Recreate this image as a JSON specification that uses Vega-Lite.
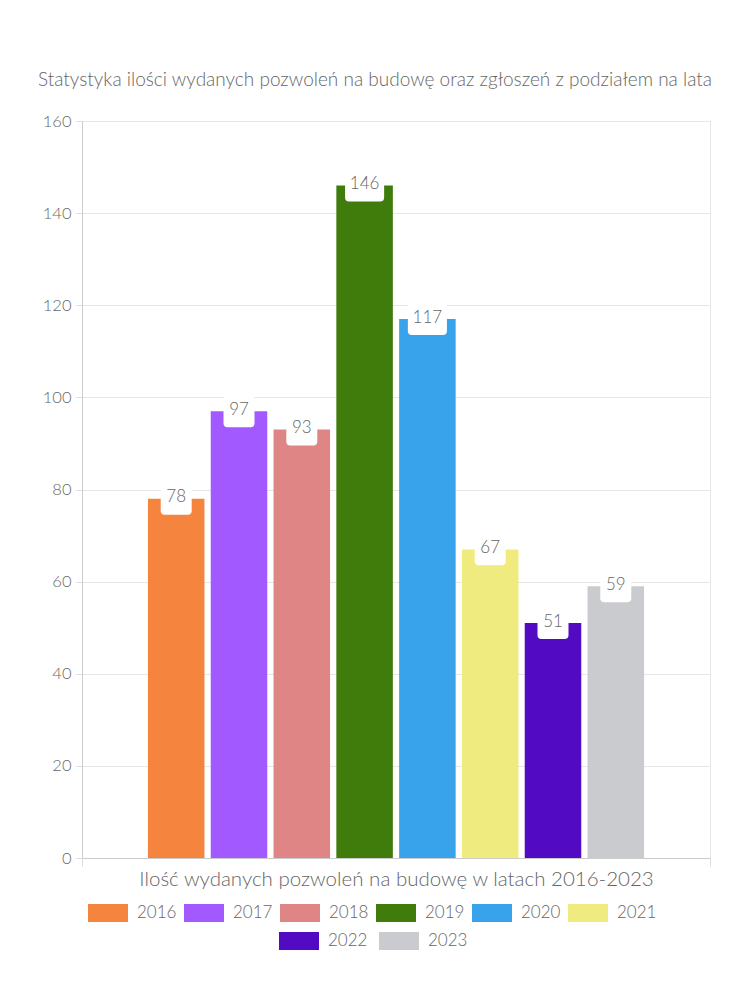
{
  "$schema": "https://vega.github.io/schema/vega-lite/v6.json",
  "width": 628,
  "height": 737,
  "autosize": {"type": "none"},
  "padding": {"left": 82, "top": 121, "right": 40, "bottom": 142},
  "background": "white",
  "title": {
    "text": "Statystyka ilości wydanych pozwoleń na budowę oraz zgłoszeń z podziałem na lata",
    "anchor": "middle",
    "dx": -21,
    "offset": 23,
    "fontSize": 19,
    "fontWeight": 300,
    "font": "Lato",
    "color": "#666666"
  },
  "data": {
    "values": [
      {"kategoria": "Ilość", "rok": "2016", "wartosc": 78},
      {"kategoria": "Ilość", "rok": "2017", "wartosc": 97},
      {"kategoria": "Ilość", "rok": "2018", "wartosc": 93},
      {"kategoria": "Ilość", "rok": "2019", "wartosc": 146},
      {"kategoria": "Ilość", "rok": "2020", "wartosc": 117},
      {"kategoria": "Ilość", "rok": "2021", "wartosc": 67},
      {"kategoria": "Ilość", "rok": "2022", "wartosc": 51},
      {"kategoria": "Ilość", "rok": "2023", "wartosc": 59}
    ]
  },
  "encoding": {
    "x": {
      "field": "kategoria",
      "type": "nominal",
      "scale": {"paddingInner": 0, "paddingOuter": 0},
      "axis": {
        "title": "Ilość wydanych pozwoleń na budowę w latach 2016-2023",
        "labels": false,
        "tickBand": "extent",
        "grid": true,
        "gridColor": "#e6e6e6",
        "domainColor": "#cccccc",
        "tickColor": "#dddddd",
        "tickSize": 8,
        "titlePadding": 3,
        "titleFontSize": 20.5,
        "titleFontWeight": 300,
        "titleColor": "#666666",
        "titleFont": "Lato"
      }
    },
    "xOffset": {
      "field": "rok",
      "type": "nominal",
      "scale": {
        "domain": ["_l", "2016", "2017", "2018", "2019", "2020", "2021", "2022", "2023", "_r"],
        "paddingInner": 0.1,
        "paddingOuter": 0.05
      }
    },
    "y": {
      "field": "wartosc",
      "type": "quantitative",
      "scale": {"domain": [0, 160], "nice": false},
      "axis": {
        "title": null,
        "values": [0, 20, 40, 60, 80, 100, 120, 140, 160],
        "grid": true,
        "gridColor": "#e6e6e6",
        "domainColor": "#cccccc",
        "tickColor": "#dddddd",
        "tickSize": 6,
        "labelPadding": 5,
        "labelFontSize": 16.5,
        "labelFontWeight": 300,
        "labelColor": "#666666",
        "labelFont": "Lato"
      }
    }
  },
  "layer": [
    {
      "transform": [{"filter": {"field": "rok", "oneOf": ["2016", "2017", "2018", "2019", "2020", "2021"]}}],
      "mark": {"type": "bar", "opacity": 1},
      "encoding": {
        "color": {
          "field": "rok",
          "type": "nominal",
          "scale": {
            "domain": ["2016", "2017", "2018", "2019", "2020", "2021"],
            "range": ["#f5843f", "#a259ff", "#e08585", "#3f7c0c", "#38a3eb", "#f0eb7e"]
          },
          "legend": {
            "title": null,
            "orient": "none",
            "direction": "horizontal",
            "legendX": 6,
            "legendY": 772,
            "symbolType": "M-1,-0.45H1V0.45H-1Z",
            "symbolSize": 1600,
            "symbolStrokeWidth": 0,
            "symbolOpacity": 1,
            "labelFontSize": 17,
            "labelFontWeight": 300,
            "labelColor": "#666666",
            "labelFont": "Lato",
            "labelOffset": 9,
            "columnPadding": 7,
            "padding": 0
          }
        }
      }
    },
    {
      "transform": [{"filter": {"field": "rok", "oneOf": ["2022", "2023"]}}],
      "mark": {"type": "bar", "opacity": 1},
      "encoding": {
        "color": {
          "field": "rok",
          "type": "nominal",
          "scale": {
            "domain": ["2022", "2023"],
            "range": ["#520bc2", "#cacbcf"]
          },
          "legend": {
            "title": null,
            "orient": "none",
            "direction": "horizontal",
            "legendX": 197,
            "legendY": 800,
            "symbolType": "M-1,-0.45H1V0.45H-1Z",
            "symbolSize": 1600,
            "symbolStrokeWidth": 0,
            "symbolOpacity": 1,
            "labelFontSize": 17,
            "labelFontWeight": 300,
            "labelColor": "#666666",
            "labelFont": "Lato",
            "labelOffset": 9,
            "columnPadding": 11,
            "padding": 0
          }
        }
      }
    },
    {
      "mark": {"type": "point", "filled": true, "color": "white", "opacity": 1, "size": 961, "strokeWidth": 0},
      "encoding": {
        "shape": {
          "condition": {"test": "datum.wartosc >= 100", "value": "M-1.26,-1H1.26V0.77Q1.26,1.03 1,1.03H-1Q-1.26,1.03 -1.26,0.77Z"},
          "value": "M-1,-1H1V0.77Q1,1.03 0.74,1.03H-0.74Q-1,1.03 -1,0.77Z"
        }
      }
    },
    {
      "mark": {"type": "text", "baseline": "middle", "dy": -1.5, "fontSize": 17, "fontWeight": 300, "color": "#666666", "font": "Lato"},
      "encoding": {"text": {"field": "wartosc", "type": "quantitative"}}
    }
  ],
  "resolve": {"scale": {"color": "independent"}}
}
